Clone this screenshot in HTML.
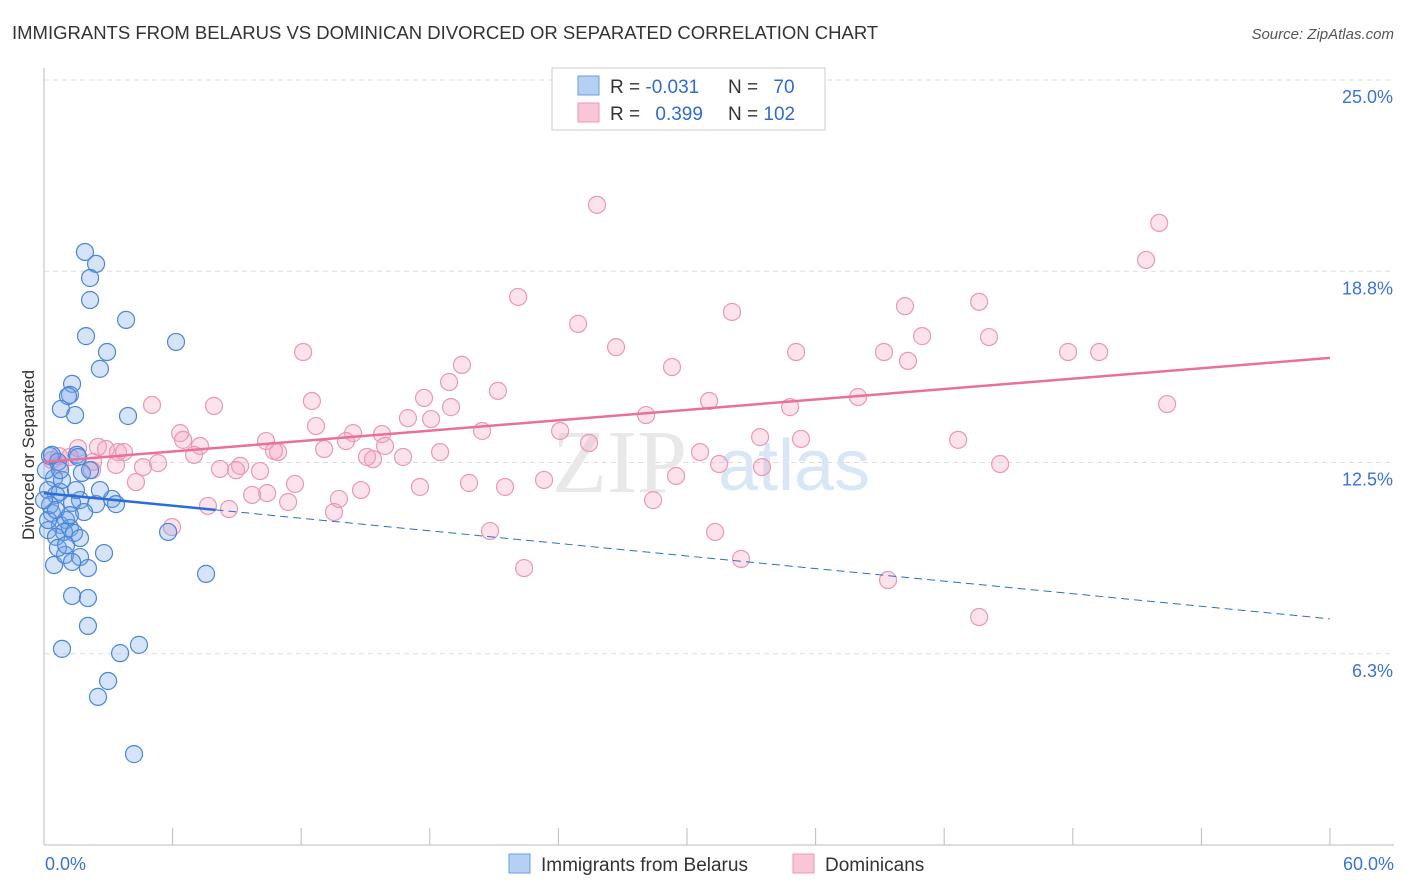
<!DOCTYPE html>
<html><head><meta charset="utf-8"><style>
body{margin:0;background:#fff;font-family:"Liberation Sans",sans-serif}
svg{display:block}
</style></head><body>
<svg id="chart" width="1406" height="892" xmlns="http://www.w3.org/2000/svg">
<text x="12" y="39" font-size="18.5" fill="#333">IMMIGRANTS FROM BELARUS VS DOMINICAN DIVORCED OR SEPARATED CORRELATION CHART</text>
<text x="1394" y="39" font-size="15" fill="#555" font-style="italic" text-anchor="end">Source: ZipAtlas.com</text>
<g id="grid"></g>
<g id="axes"></g>
<text x="552" y="492" font-size="90" fill="#e8e8e8" font-family="Liberation Serif,serif">ZIP</text>
<text x="718" y="490" font-size="72" fill="#d8e6f6">atlas</text>
<g id="pts"></g>
<g id="trends"></g>
<text x="34" y="455" font-size="17" fill="#333" text-anchor="middle" transform="rotate(-90 34 455)">Divorced or Separated</text>
<g>
<rect x="552" y="68" width="273" height="62" fill="#fff" stroke="#ccc"/>
<rect x="578" y="76" width="21" height="19" fill="#b6d0f4" stroke="#6a9ee0"/>
<rect x="578" y="103" width="21" height="19" fill="#f8c6d6" stroke="#ec9ab6"/>
<text x="610" y="93" font-size="19" fill="#333">R = <tspan fill="#2f6bd0">-0.031</tspan></text>
<text x="728" y="93" font-size="19" fill="#333">N = <tspan fill="#2f6bd0" dx="10">70</tspan></text>
<text x="610" y="120" font-size="19" fill="#333">R = <tspan fill="#2f6bd0" dx="10">0.399</tspan></text>
<text x="728" y="120" font-size="19" fill="#333">N = <tspan fill="#2f6bd0">102</tspan></text>
</g>
<g>
<rect x="509" y="854" width="21" height="19" fill="#b6d0f4" stroke="#6a9ee0"/>
<text x="541" y="871" font-size="19" fill="#333">Immigrants from Belarus</text>
<rect x="793" y="854" width="21" height="19" fill="#f8c6d6" stroke="#ec9ab6"/>
<text x="825" y="871" font-size="19" fill="#333">Dominicans</text>
</g>
</svg>
<script>
const blueX=[1.91,2.43,2.15,2.15,3.83,1.96,6.16,2.94,2.61,1.31,1.21,1.12,0.79,1.45,3.92,1.54,0.28,1.77,0.47,0.19,0.75,1.68,3.17,3.36,0.56,1.31,2.43,1.87,0.37,1.03,0.75,1.21,0.93,1.40,0.19,0.56,1.68,5.79,0.47,0.98,1.68,2.80,1.31,2.05,7.56,1.31,2.05,2.05,0.84,3.55,4.43,2.99,2.52,4.20,0.19,0.28,0.09,0.65,0.37,0.84,0,1.49,2.15,2.61,0.65,1.03,1.59,0.56,1.21,0.75];
const blueY=[19.38,18.99,18.53,17.81,17.16,16.63,16.44,16.11,15.56,15.07,14.71,14.67,14.25,14.05,14.02,12.75,12.71,12.16,11.99,11.60,11.54,11.27,11.31,11.14,11.44,11.18,11.14,10.88,10.85,10.62,10.46,10.36,10.23,10.20,10.29,10.07,10.03,10.23,9.15,9.48,9.41,9.54,9.25,9.05,8.86,8.14,8.07,7.16,6.41,6.27,6.54,5.36,4.84,2.97,10.62,11.11,12.25,12.52,12.75,11.93,11.27,11.6,12.25,11.6,9.71,9.8,12.68,10.95,10.78,12.25];
const pinkX=[25.80,52.03,51.42,22.12,43.63,40.17,32.10,24.92,40.97,44.09,26.69,12.09,39.19,35.09,47.78,49.23,40.31,19.50,29.30,18.90,21.18,37.98,12.50,17.73,52.40,5.04,7.93,31.03,34.81,18.99,16.98,18.06,28.09,12.69,20.44,24.08,14.42,10.36,6.49,6.35,14.09,15.77,33.41,35.32,42.65,25.43,7.28,2.52,2.89,3.45,3.73,10.92,30.61,18.48,13.07,15.91,1.59,0.70,1.21,7.00,10.73,15.07,15.35,16.75,2.29,3.36,4.62,5.32,8.21,9.15,8.96,10.08,31.50,33.50,44.61,29.49,23.33,4.29,19.83,17.54,21.51,11.71,10.41,9.71,14.79,13.76,11.39,28.42,7.65,8.63,13.53,5.97,20.81,31.31,32.52,22.40,39.38,43.63,0.75,0.37,2.24];
const pinkY=[20.92,20.33,19.12,17.91,17.75,17.61,17.42,17.03,16.63,16.60,16.27,16.11,16.11,16.11,16.11,16.11,15.82,15.69,15.62,15.13,14.84,14.64,14.51,14.61,14.41,14.38,14.35,14.51,14.31,14.31,13.95,13.92,14.05,13.69,13.53,13.53,13.46,13.20,13.24,13.46,13.20,13.43,13.33,13.27,13.24,13.14,13.04,13.01,12.94,12.84,12.84,12.84,12.84,12.84,12.94,13.04,12.97,12.71,12.68,12.75,12.88,12.68,12.61,12.68,12.52,12.42,12.35,12.48,12.29,12.39,12.25,12.22,12.45,12.35,12.45,12.06,11.93,11.86,11.83,11.70,11.70,11.80,11.50,11.44,11.60,11.31,11.21,11.27,11.08,10.98,10.88,10.39,10.26,10.23,9.35,9.05,8.66,7.45,12.42,12.58,12.25];
const yTicks=[6.25,12.5,18.75,25];
const yTickLabels=["6.3%","12.5%","18.8%","25.0%"];
const xTicks=[0,6,12,18,24,30,36,42,48,54,60];
const blueTrend=[11.5,7.39];
const pinkTrend=[12.52,15.92];
const X0=44,X1=1330,Y0=845,YK=30.6;
const sx=v=>X0+(X1-X0)*v/60;
const sy=v=>Y0-v*YK;
const NS="http://www.w3.org/2000/svg";
function mk(tag,attrs,parent){const e=document.createElementNS(NS,tag);for(const k in attrs)e.setAttribute(k,attrs[k]);parent.appendChild(e);return e;}
const grid=document.getElementById('grid'),axes=document.getElementById('axes'),pts=document.getElementById('pts'),tr=document.getElementById('trends');
yTicks.forEach((t,i)=>{
 const l=mk('line',{x1:X0,x2:1394,y1:sy(t),y2:sy(t),stroke:'#ddd','stroke-dasharray':'5,4'},grid);
 
 
 const tx=mk('text',{x:1393,y:sy(t)+23,'font-size':18,fill:'#3b73d4','text-anchor':'end'},axes);
 tx.textContent=yTickLabels[i];
 
 
});
const yl=mk('line',{x1:X0,x2:X0,y1:68,y2:Y0,stroke:'#bbb'},axes);


const xl=mk('line',{x1:X0,x2:1394,y1:Y0,y2:Y0,stroke:'#bbb'},axes);


xTicks.forEach(t=>{
 const l=mk('line',{x1:sx(t),x2:sx(t),y1:828,y2:Y0,stroke:'#bbb'},axes);
 
 
});
const xa=mk('text',{x:45,y:870,'font-size':18,fill:'#3b73d4'},axes);xa.textContent=xTicks[0].toFixed(1)+'%';


const xb=mk('text',{x:1394,y:870,'font-size':18,fill:'#3b73d4','text-anchor':'end'},axes);xb.textContent=xTicks[xTicks.length-1].toFixed(1)+'%';


pinkX.forEach((x,i)=>{
 const c=mk('circle',{cx:sx(x),cy:sy(pinkY[i]),r:8.5,fill:'rgba(244,160,188,0.3)',stroke:'#eb98b4','stroke-width':1.2},pts);
 
 
});
blueX.forEach((x,i)=>{
 const c=mk('circle',{cx:sx(x),cy:sy(blueY[i]),r:8.5,fill:'rgba(120,165,235,0.3)',stroke:'#4a86d8','stroke-width':1.2},pts);
 
 
});
const by=x=>blueTrend[0]+(blueTrend[1]-blueTrend[0])*x/60;
const b1=mk('line',{x1:sx(0),y1:sy(by(0)),x2:sx(8),y2:sy(by(8)),stroke:'#2a6dd8','stroke-width':2.5},tr);


const b2=mk('line',{x1:sx(8),y1:sy(by(8)),x2:sx(60),y2:sy(by(60)),stroke:'#2a6dd8','stroke-width':1,'stroke-dasharray':'8,5'},tr);


const p1=mk('line',{x1:sx(0),y1:sy(pinkTrend[0]),x2:sx(60),y2:sy(pinkTrend[1]),stroke:'#e8709a','stroke-width':2.5},tr);


</script>
</body></html>
